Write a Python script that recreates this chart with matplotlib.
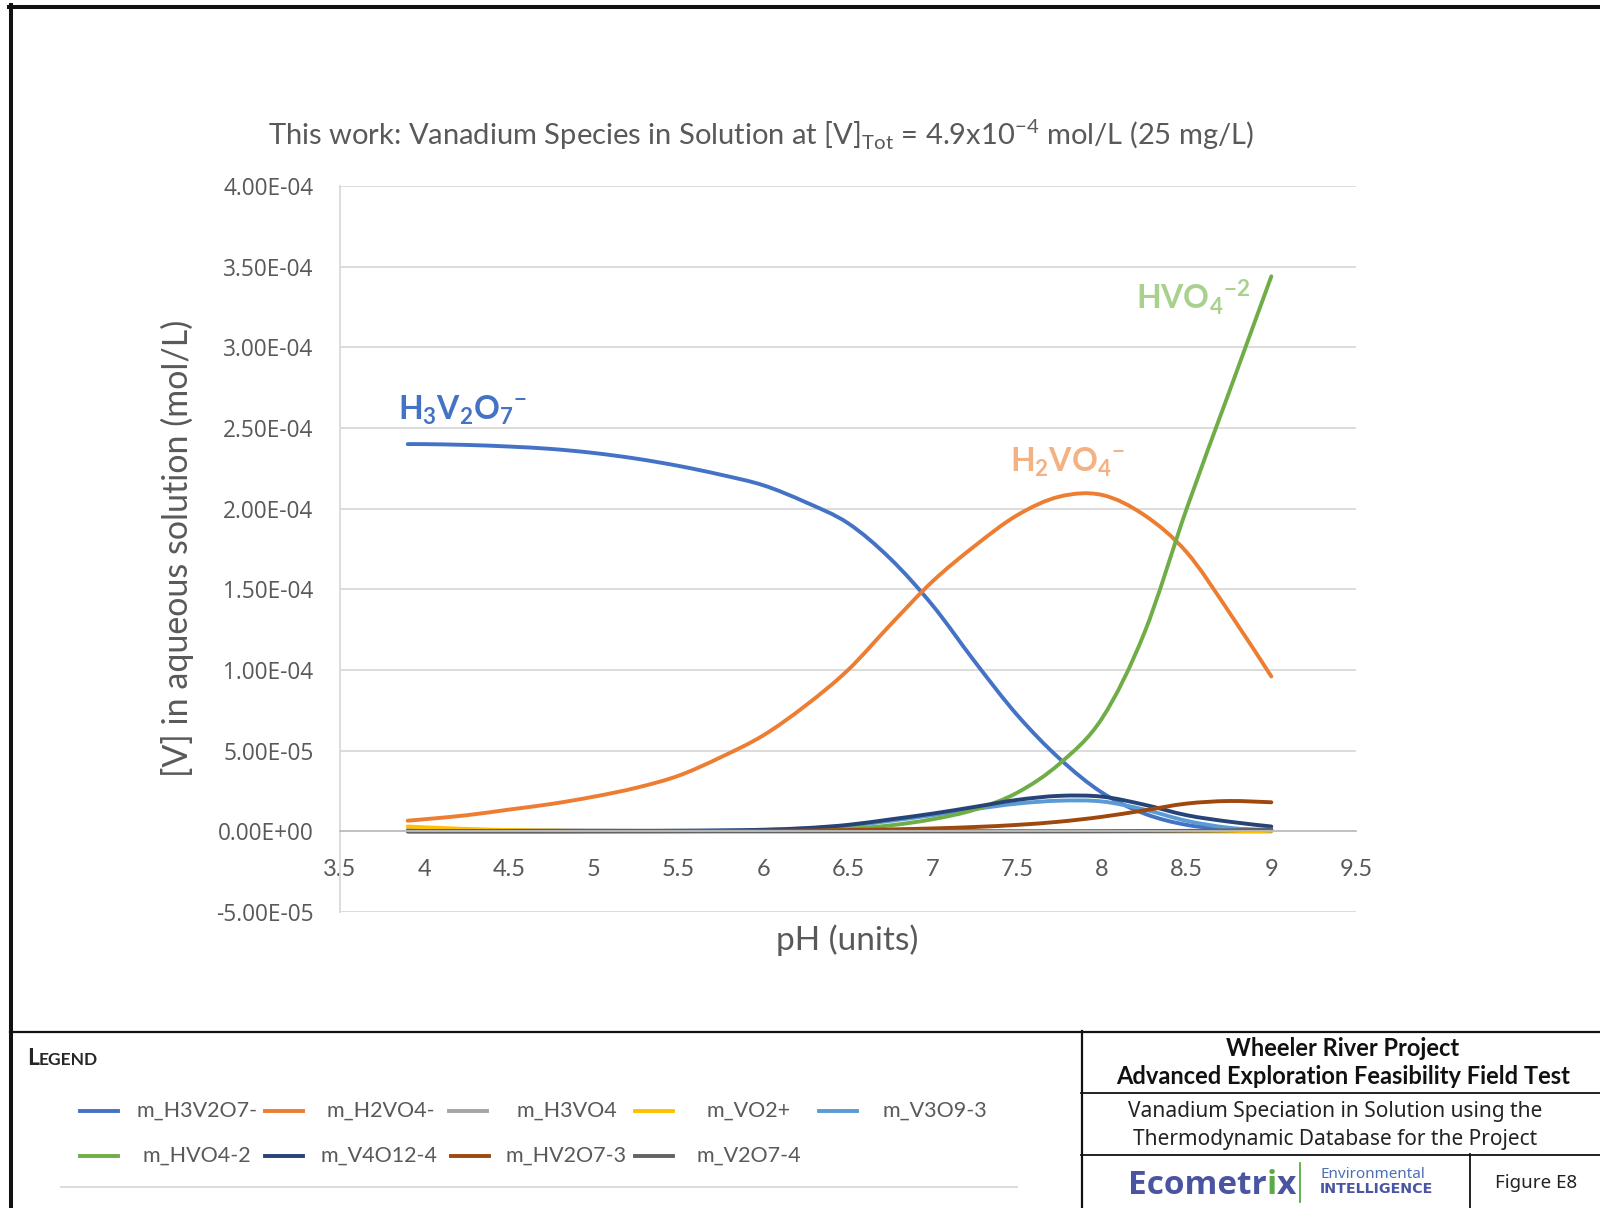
import matplotlib
matplotlib.use("Agg")
import matplotlib.pyplot as plt
from matplotlib.lines import Line2D
from matplotlib.path import Path
from matplotlib.patches import PathPatch
import numpy as np

# ---------------- data (concentrations in units of 1e-5 mol/L) ----------------
ph = [3.9, 4.0, 4.25, 4.5, 4.75, 5.0, 5.25, 5.5, 5.75, 6.0, 6.25, 6.5, 6.75,
      7.0, 7.25, 7.5, 7.75, 8.0, 8.25, 8.5, 8.75, 9.0]
m_H3V2O7 = [24.0, 24.0, 23.95, 23.85, 23.7, 23.45, 23.1, 22.65, 22.1, 21.45, 20.4,
            19.1, 16.9, 14.0, 10.5, 7.2, 4.5, 2.4, 1.1, 0.4, 0.15, 0.08]
m_H2VO4 = [0.66, 0.75, 1.0, 1.35, 1.7, 2.15, 2.7, 3.45, 4.6, 5.95, 7.8,
           10.0, 12.8, 15.5, 17.7, 19.6, 20.75, 20.85, 19.6, 17.3, 13.6, 9.6]
m_H3VO4 = [0.1, 0.1, 0.09, 0.08, 0.07, 0.06, 0.05, 0.05, 0.04, 0.04, 0.03,
           0.03, 0.02, 0.02, 0.01, 0.01, 0.01, 0.0, 0.0, 0.0, 0.0, 0.0]
m_VO2 = [0.3, 0.25, 0.15, 0.08, 0.04, 0.02, 0.01, 0.01, 0.0, 0.0, 0.0,
         0.0, 0.0, 0.0, 0.0, 0.0, 0.0, 0.0, 0.0, 0.0, 0.0, 0.0]
m_V3O9 = [0.02, 0.02, 0.02, 0.02, 0.02, 0.02, 0.02, 0.03, 0.05, 0.08, 0.18,
          0.35, 0.65, 1.0, 1.38, 1.72, 1.9, 1.85, 1.35, 0.65, 0.22, 0.05]
m_HVO4 = [0.0, 0.0, 0.0, 0.0, 0.0, 0.0, 0.0, 0.01, 0.02, 0.04, 0.08,
          0.16, 0.37, 0.75, 1.35, 2.4, 4.2, 7.0, 12.3, 20.0, 27.2, 34.4]
m_V4O12 = [0.01, 0.01, 0.01, 0.01, 0.01, 0.01, 0.02, 0.03, 0.05, 0.1, 0.2,
           0.4, 0.74, 1.1, 1.52, 1.95, 2.2, 2.15, 1.65, 1.0, 0.6, 0.3]
m_HV2O7 = [0.0, 0.0, 0.0, 0.0, 0.0, 0.01, 0.01, 0.01, 0.02, 0.03, 0.05,
           0.08, 0.12, 0.18, 0.27, 0.4, 0.6, 0.9, 1.3, 1.72, 1.88, 1.8]
m_V2O7 = [0.0, 0.0, 0.0, 0.0, 0.0, 0.0, 0.0, 0.0, 0.0, 0.0, 0.0,
          0.0, 0.0, 0.0, 0.0, 0.0, 0.0, 0.01, 0.02, 0.03, 0.06, 0.12]

series_names = ["m_H3V2O7-", "m_H2VO4-", "m_H3VO4", "m_VO2+", "m_V3O9-3",
                "m_HVO4-2", "m_V4O12-4", "m_HV2O7-3", "m_V2O7-4"]
series_vals = [m_H3V2O7, m_H2VO4, m_H3VO4, m_VO2, m_V3O9,
               m_HVO4, m_V4O12, m_HV2O7, m_V2O7]
series_colors = ["#4472C4", "#ED7D31", "#A5A5A5", "#FFC000", "#5B9BD5",
                 "#70AD47", "#264478", "#9E480E", "#636363"]

yticks = [-5e-5, 0, 5e-5, 1e-4, 1.5e-4, 2e-4, 2.5e-4, 3e-4, 3.5e-4, 4e-4]
ytick_labels = ["-5.00E-05", "0.00E+00", "5.00E-05", "1.00E-04", "1.50E-04",
                "2.00E-04", "2.50E-04", "3.00E-04", "3.50E-04", "4.00E-04"]
xticks = [3.5, 4, 4.5, 5, 5.5, 6, 6.5, 7, 7.5, 8, 8.5, 9, 9.5]
xtick_labels = ["3.5", "4", "4.5", "5", "5.5", "6", "6.5", "7", "7.5", "8",
                "8.5", "9", "9.5"]

# ---------------- figure ----------------
W, H = 1600, 1208
fig = plt.figure(figsize=(W / 100, H / 100), dpi=100)
fig.patch.set_facecolor("white")

def fx(px):
    return px / W

def fy(py):
    return 1 - py / H

TXT = "#595959"
CAL = ["Lato", "DejaVu Sans"]
SEG = ["Open Sans", "DejaVu Sans"]
NOTO = ["Noto Sans", "DejaVu Sans"]

ax = fig.add_axes([fx(340), fy(912), fx(1356) - fx(340), fy(186) - fy(912)])
ax.set_xlim(3.5, 9.5)
ax.set_ylim(-5e-5, 4e-4)


def smooth_path(xs, ys):
    """Excel-style smoothed line (Catmull-Rom as cubic Bezier) through the data points."""
    pts = np.column_stack([xs, ys])
    n = len(pts)
    verts = [pts[0]]
    codes = [Path.MOVETO]
    for i in range(n - 1):
        p0 = pts[i - 1] if i > 0 else pts[i]
        p1 = pts[i]
        p2 = pts[i + 1]
        p3 = pts[i + 2] if i + 2 < n else pts[i + 1]
        verts += [p1 + (p2 - p0) / 6.0, p2 - (p3 - p1) / 6.0, p2]
        codes += [Path.CURVE4] * 3
    return Path(verts, codes)


for name, vals, col in zip(series_names, series_vals, series_colors):
    patch = PathPatch(smooth_path(ph, np.array(vals) * 1e-5), facecolor="none",
                      edgecolor=col, lw=2.8, label=name, transform=ax.transData)
    patch.set_capstyle("round")
    patch.set_joinstyle("round")
    ax.add_patch(patch)

# axes styling (Excel look)
for s in ["top", "right"]:
    ax.spines[s].set_visible(False)
ax.spines["left"].set_color("#D9D9D9")
ax.spines["left"].set_linewidth(1.3)
ax.spines["bottom"].set_position(("data", 0))
ax.spines["bottom"].set_color("#BFBFBF")
ax.spines["bottom"].set_linewidth(1.3)
ax.set_yticks(yticks)
ax.set_yticklabels(ytick_labels, family=SEG, fontsize=16.3, color=TXT)
ax.set_xticks(xticks)
ax.set_xticklabels(xtick_labels, family=CAL, fontsize=17, color=TXT)
ax.tick_params(axis="both", length=0)
ax.tick_params(axis="y", pad=19)
ax.tick_params(axis="x", pad=20)
ax.grid(axis="y", color="#D9D9D9", lw=1.3)
ax.set_axisbelow(True)

# title
fig.text(fx(761), fy(135),
         r"This work: Vanadium Species in Solution at [V]$_\mathregular{Tot}$ = 4.9x10$^\mathregular{-4}$ mol/L (25 mg/L)",
         ha="center", va="center", fontsize=21, color=TXT, family=CAL)
fig.text(fx(177), fy(548), "[V] in aqueous solution (mol/L)", rotation=90,
         ha="center", va="center", fontsize=24.5, color=TXT, family=CAL)
fig.text(fx(847), fy(940), "pH (units)", ha="center", va="center",
         fontsize=24, color=TXT, family=CAL)

# species labels
fig.text(fx(398), fy(410),
         r"H$_\mathregular{3}$V$_\mathregular{2}$O$_\mathregular{7}$$^\mathregular{-}$",
         ha="left", va="center", fontsize=23, color="#4472C4", weight="bold", family=CAL)
fig.text(fx(1010), fy(462),
         r"H$_\mathregular{2}$VO$_\mathregular{4}$$^\mathregular{-}$",
         ha="left", va="center", fontsize=23, color="#F4B183", weight="bold", family=CAL)
fig.text(fx(1136), fy(297),
         r"HVO$_\mathregular{4}$$^\mathregular{-2}$",
         ha="left", va="center", fontsize=23, color="#A9D18E", weight="bold", family=CAL)

# ---------------- frame / title block ----------------
def hline(y, x0, x1, lw, color="#111111"):
    fig.add_artist(Line2D([fx(x0), fx(x1)], [fy(y), fy(y)], lw=lw, color=color,
                          transform=fig.transFigure))

def vline(x, y0, y1, lw, color="#111111"):
    fig.add_artist(Line2D([fx(x), fx(x)], [fy(y0), fy(y1)], lw=lw, color=color,
                          transform=fig.transFigure))

hline(6.5, 9, 1600, 2.9)
vline(10.5, 5, 1208, 2.9)
hline(1031.5, 10, 1600, 1.6)
vline(1081.5, 1031, 1208, 1.6)
hline(1092.5, 1081, 1600, 1.3)
hline(1154.5, 1081, 1600, 1.3)
vline(1470, 1154, 1208, 1.3)

renderer = fig.canvas.get_renderer()

# legend block
tL = fig.text(fx(27), fy(1065), "L", fontsize=16.5, weight="bold", color="#262626",
              family=CAL, ha="left", va="baseline")
bbL = tL.get_window_extent(renderer)
fig.text(bbL.x1 / W, fy(1065), "EGEND", fontsize=12.5, weight="bold", color="#262626",
         family=CAL, ha="left", va="baseline")

leg_line_x = [80, 265, 449, 635, 819, 80, 265, 451, 635]
leg_text_x = [137, 327, 517, 707, 882, 142, 320, 506, 696]
leg_y = [1111, 1111, 1111, 1111, 1111, 1156, 1156, 1156, 1156]
for name, col, lx, tx, ly in zip(series_names, series_colors, leg_line_x, leg_text_x, leg_y):
    hline(ly, lx, lx + 38, 2.8, color=col)
    fig.text(fx(tx), fy(ly), name, fontsize=15.5, color=TXT, family=CAL,
             ha="left", va="center")
hline(1187, 61, 1017, 1.3, color="#D9D9D9")

# right title block
fig.text(fx(1343), fy(1049), "Wheeler River Project", fontsize=17, weight="bold",
         color="#111111", family=CAL, ha="center", va="center")
fig.text(fx(1343), fy(1077), "Advanced Exploration Feasibility Field Test", fontsize=17,
         weight="bold", color="#111111", family=CAL, ha="center", va="center")
fig.text(fx(1335), fy(1112), "Vanadium Speciation in Solution using the", fontsize=15,
         color="#222222", family=NOTO, ha="center", va="center")
fig.text(fx(1335), fy(1140), "Thermodynamic Database for the Project", fontsize=15,
         color="#222222", family=NOTO, ha="center", va="center")
fig.text(fx(1536), fy(1183), "Figure E8", fontsize=13.5, color="#222222",
         family=NOTO, ha="center", va="center")

# Ecometrix logo text
logo_col = "#4A55A2"
t1 = fig.text(fx(1128), fy(1185), "Ecometr", fontsize=24, weight="bold", color=logo_col,
              family=SEG, ha="left", va="center")
bb = t1.get_window_extent(renderer)
t2 = fig.text(bb.x1 / W, fy(1185), "i", fontsize=24, weight="bold", color="#5BAA46",
              family=SEG, ha="left", va="center")
bb2 = t2.get_window_extent(renderer)
fig.text(bb2.x1 / W, fy(1185), "x", fontsize=24, weight="bold", color=logo_col,
         family=SEG, ha="left", va="center")
vline(1300, 1163, 1202, 1.3, color="#5BAA46")
fig.text(fx(1320), fy(1175), "Environmental", fontsize=11, color="#4A6FB5",
         family=NOTO, ha="left", va="center")
fig.text(fx(1320), fy(1189), "INTELLIGENCE", fontsize=10.3, weight="bold", color=logo_col,
         family=["DejaVu Sans"], ha="left", va="center")

fig.savefig("out.png", dpi=100, facecolor="white")
